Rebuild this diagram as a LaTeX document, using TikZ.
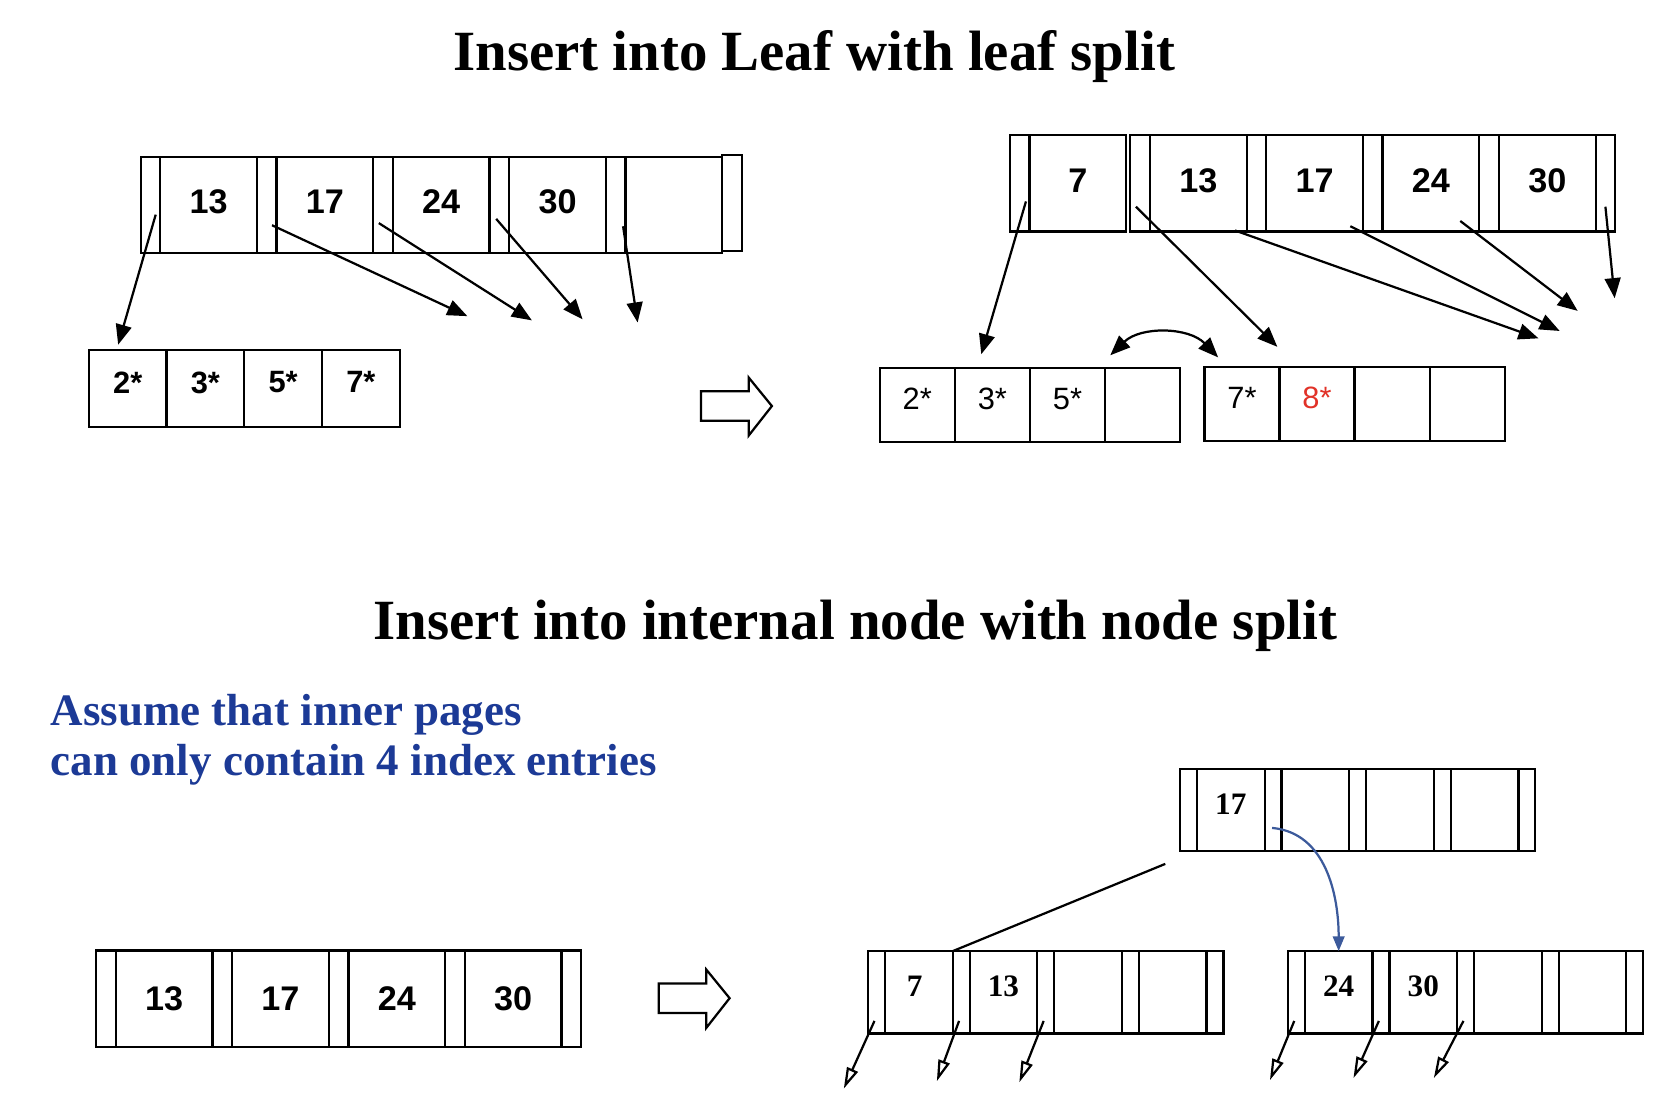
\documentclass[tikz,border=0pt]{standalone}
\usepackage{xcolor}
\usepackage{fontspec}
\setmainfont{Liberation Serif}
\setsansfont{Liberation Sans}
\usepackage{tikz}
\usetikzlibrary{arrows.meta, positioning, calc}
\definecolor{noteblue}{RGB}{28,58,150}
\definecolor{newred}{RGB}{225,50,40}
\definecolor{linkblue}{RGB}{60,90,155}

\begin{document}
\begin{tikzpicture}[x=1cm, y=-1cm,
				every node/.style={inner sep=0pt, outer sep=0pt},
				bigkey/.style={draw, semithick, minimum width=0.915cm, minimum height=0.91cm, text depth=0.06cm, font=\sffamily\bfseries\fontsize{9.2}{11}\selectfont},
				bigptr/.style={draw, semithick, minimum width=0.185cm, minimum height=0.91cm},
				leafcell/.style={draw, semithick, minimum width=0.71cm, minimum height=0.70cm, text depth=0.12cm, font=\sffamily\fontsize{8.3}{10}\selectfont},
				smallkey/.style={draw, semithick, minimum width=0.64cm, minimum height=0.78cm, text depth=0.12cm, font=\rmfamily\bfseries\fontsize{8.4}{10}\selectfont},
				smallptr/.style={draw, semithick, minimum width=0.16cm, minimum height=0.78cm},
				ptrarrow/.style={semithick, -{Triangle[length=0.19cm, width=0.15cm]}},
				openarrow/.style={semithick, -{Triangle[open, length=0.2cm, width=0.11cm]}},
				hollow/.style={draw, semithick},
				heading/.style={anchor=base, font=\bfseries\fontsize{15.3}{18}\selectfont}]
				\useasboundingbox (0,0) rectangle (15.68,10.40);

				% titles and note
				\node[heading] (title1) at (7.70,0.67) {Insert into Leaf with leaf split};
				\node[heading] (title2) at (8.09,6.05) {Insert into internal node with node split};
				\node[anchor=base west, align=left, text=noteblue, font=\bfseries\fontsize{12.1}{13.4}\selectfont] (note) at (0.48,7.33) {Assume that inner pages\\can only contain 4 index entries};

				% leaf split: before
				\foreach \i in {0,...,4}
					\node[bigptr] (tlp\i) at ({1.4225+1.1*\i},1.94) {};
				\node[bigptr] (tlp5) at (6.9225,1.92) {};
				\foreach \i/\k in {1/13,2/17,3/24,4/30,5/}
					\node[bigkey] (tlk\i) at ({0.8725+1.1*\i},1.94) {\k};
				\foreach \i/\k in {1/2*,2/3*,3/5*,4/7*}
					\node[leafcell, minimum width=0.735cm, minimum height=0.73cm, font=\sffamily\bfseries\fontsize{8.3}{10}\selectfont] (lf\i) at ({0.4725+0.735*\i},3.675) {\k};
				\coordinate (e1) at (4.42,2.99);
				\coordinate (e2) at (5.03,3.03);
				\coordinate (e3) at (5.51,3.02);
				\coordinate (e4) at (6.03,3.05);
				\draw[ptrarrow] ($(tlp0)+(0.05,0.09)$) -- ($(lf1.north)+(-0.09,-0.05)$);
				\draw[ptrarrow] ($(tlp1)+(0.05,0.19)$) -- (e1);
				\draw[ptrarrow] ($(tlp2)+(-0.04,0.17)$) -- (e2);
				\draw[ptrarrow] ($(tlp3)+(-0.03,0.13)$) -- (e3);
				\draw[ptrarrow] ($(tlp4)+(0.07,0.20)$) -- (e4);

				\draw[hollow] (6.63,3.70) -- ++(0.45,0) -- ++(0,-0.13) -- ++(0.22,0.27) -- ++(-0.22,0.28) -- ++(0,-0.14) -- ++(-0.45,0) -- cycle;

				% leaf split: after
				\node[bigptr] (trp0) at (9.6425,1.735) {};
				\node[bigkey] (trk0) at (10.1925,1.735) {7};
				\foreach \i in {1,...,5}
					\node[bigptr] (trp\i) at ({9.6825+1.1*\i},1.735) {};
				\foreach \i/\k in {1/13,2/17,3/24,4/30}
					\node[bigkey] (trk\i) at ({10.2325+1.1*\i},1.735) {\k};
				\foreach \i/\k in {1/2*,2/3*,3/5*,4/}
					\node[leafcell] (la\i) at ({7.965+0.71*\i},3.83) {\k};
				\foreach \i/\k in {1/7*,2/\textcolor{newred}{8*},3/,4/}
					\node[leafcell] (lb\i) at ({11.035+0.71*\i},3.82) {\k};
				\coordinate (f1) at (14.55,3.20);
				\coordinate (f2) at (14.75,3.13);
				\coordinate (f3) at (14.92,2.94);
				\coordinate (f4) at (15.27,2.82);
				\draw[ptrarrow] ($(trp0)+(0.06,0.17)$) -- ($(la2.north)+(-0.105,-0.13)$);
				\draw[ptrarrow] ($(trp1)+(-0.04,0.22)$) -- ($(lb2.north west)+(-0.02,-0.19)$);
				\draw[ptrarrow] ($(trk1.south east)+(-0.11,-0.01)$) -- (f1);
				\draw[ptrarrow] ($(trk2.south east)+(-0.12,-0.05)$) -- (f2);
				\draw[ptrarrow] ($(trk3.south east)+(-0.18,-0.10)$) -- (f3);
				\draw[ptrarrow] ($(trp5)+(0,0.22)$) -- (f4);
				\draw[semithick, {Triangle[length=0.19cm, width=0.15cm]}-{Triangle[length=0.19cm, width=0.15cm]}] ($(la4.north west)+(0.05,-0.12)$) to[bend left=45] ($(lb1.north west)+(0.13,-0.09)$);

				% node split: before
				\foreach \i in {0,...,4}
					\node[bigptr] (blp\i) at ({1.0025+1.1*\i},9.445) {};
				\foreach \i/\k in {1/13,2/17,3/24,4/30}
					\node[bigkey, text depth=0cm] (blk\i) at ({0.4525+1.1*\i},9.445) {\k};

				\draw[hollow] (6.23,9.30) -- ++(0.45,0) -- ++(0,-0.13) -- ++(0.22,0.27) -- ++(-0.22,0.28) -- ++(0,-0.14) -- ++(-0.45,0) -- cycle;

				% node split: after
				\foreach \n/\x/\y in {bu/11.16/7.66, ba/8.21/9.385, bb/12.18/9.385} {
					\foreach \i in {0,...,4}
						\node[smallptr] (\n p\i) at ({\x+0.08+0.8*\i},\y) {};
					\foreach \i in {1,...,4}
						\node[smallkey] (\n k\i) at ({\x-0.32+0.8*\i},\y) {};
				}
				\node[font=\rmfamily\bfseries\fontsize{8.4}{10}\selectfont] at ($(buk1)+(0,-0.05)$) {17};
				\node[font=\rmfamily\bfseries\fontsize{8.4}{10}\selectfont] at ($(bak1)+(-0.04,-0.06)$) {7};
				\node[font=\rmfamily\bfseries\fontsize{8.4}{10}\selectfont] at ($(bak2)+(0,-0.06)$) {13};
				\node[font=\rmfamily\bfseries\fontsize{8.4}{10}\selectfont] at ($(bbk1)+(0,-0.06)$) {24};
				\node[font=\rmfamily\bfseries\fontsize{8.4}{10}\selectfont] at ($(bbk2)+(0,-0.06)$) {30};
				\draw[semithick] ($(bup0.south west)+(-0.14,0.12)$) -- (bap1.north west);
				\draw[semithick, linkblue, -{Triangle[length=0.14cm, width=0.11cm]}] ($(bup1)+(-0.01,0.17)$) to[out=-5, in=90] (bbk1.north);
				\foreach \n/\dx/\dy in {bap0/-0.29/0.64, bap1/-0.21/0.57, bap2/-0.23/0.58, bbp0/-0.23/0.56, bbp1/-0.24/0.54, bbp2/-0.28/0.54}
					\draw[openarrow] ($(\n)+(-0.02,0.27)$) -- ++(\dx,\dy);
			\end{tikzpicture}
\end{document}
